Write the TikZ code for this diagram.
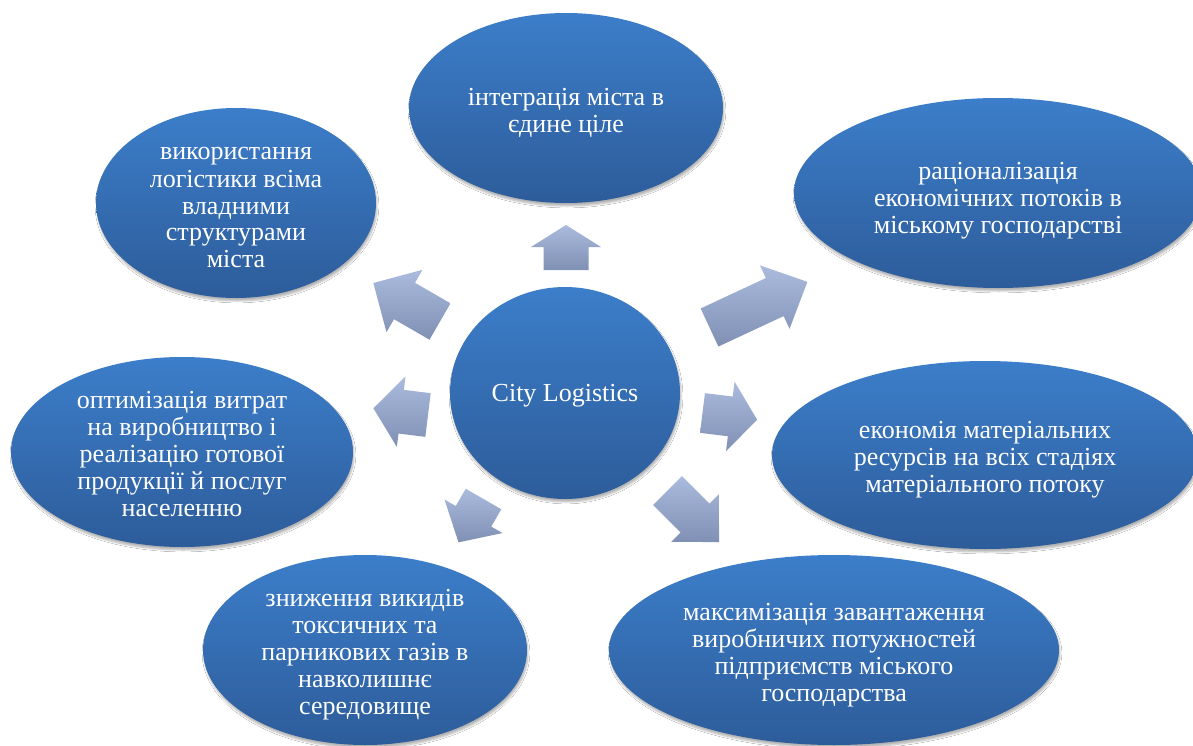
\documentclass[tikz,border=0pt]{standalone}
\usepackage{fontspec}
\setmainfont{Liberation Serif}
\usetikzlibrary{shapes.geometric,shadows.blur}

\definecolor{bubbletop}{RGB}{60,126,202}
\definecolor{bubblebot}{RGB}{45,92,154}
\definecolor{arrowtop}{RGB}{170,187,222}
\definecolor{arrowbot}{RGB}{128,144,180}

\tikzset{
    bubble/.style={ellipse, inner sep=0pt, top color=bubbletop, bottom color=bubblebot,
        blur shadow={shadow xshift=1pt, shadow yshift=-3pt, shadow opacity=30, shadow blur steps=6}},
    caption/.style={text=white, align=center, inner sep=0pt, font=\fontsize{26}{27}\selectfont},
    blockarrow/.style={top color=arrowtop, bottom color=arrowbot}
}

% block arrow: tail x, tail y, angle, length, shaft width, head width, head length
\newcommand{\flowarrow}[7]{
    \begin{scope}[shift={(#1,#2)}, rotate=#3]
        \shade[blockarrow] (0,-#5/2) -- (#4-#7,-#5/2) -- (#4-#7,-#6/2) -- (#4,0)
            -- (#4-#7,#6/2) -- (#4-#7,#5/2) -- (0,#5/2) -- cycle;
    \end{scope}
}

\begin{document}
\begin{tikzpicture}[x=1pt, y=-1pt]
    % page
    \fill[white] (0,0) rectangle (1193,746);
    \useasboundingbox (0,0) rectangle (1193,746);
    % centre
    \node[bubble, minimum width=230, minimum height=212] (city) at (565,393) {};
    \node[caption] (city-t) at ([yshift=-3pt]city.center) {City Logistics};
    % goals around the centre
    \node[bubble, minimum width=314, minimum height=190] (integr) at (566,108) {};
    \node[caption] (integr-t) at ([yshift=-5pt]integr.center)
        {інтеграція міста в\\ єдине ціле};
    \node[bubble, minimum width=280, minimum height=190] (power) at (236,203) {};
    \node[caption] (power-t) at ([yshift=-5pt]power.center)
        {використання\\ логістики всіма\\ владними\\ структурами\\ міста};
    \node[bubble, minimum width=408, minimum height=190] (ration) at (998,193) {};
    \node[caption] (ration-t) at ([yshift=-8pt]ration.center)
        {раціоналізація\\ економічних потоків в\\ міському господарстві};
    \node[bubble, minimum width=342, minimum height=190] (costs) at (182,452) {};
    \node[caption] (costs-t) at ([yshift=-2pt]costs.center)
        {оптимізація витрат\\ на виробництво і\\ реалізацію готової\\ продукції й послуг\\ населенню};
    \node[bubble, minimum width=426, minimum height=188] (saving) at (985,455) {};
    \node[caption] (saving-t) at ([yshift=-5pt]saving.center)
        {економія матеріальних\\ ресурсів на всіх стадіях\\ матеріального потоку};
    \node[bubble, minimum width=324, minimum height=190] (ecology) at (365,650) {};
    \node[caption] (ecology-t) at ([yshift=-5pt]ecology.center)
        {зниження викидів\\ токсичних та\\ парникових газів в\\ навколишнє\\ середовище};
    \node[bubble, minimum width=450, minimum height=190] (capacity) at (834,650) {};
    \node[caption] (capacity-t) at ([yshift=-5pt]capacity.center)
        {максимізація завантаження\\ виробничих потужностей\\ підприємств міського\\ господарства};
    % arrows out of the centre
    \flowarrow{566}{270}{90}{45}{45}{70}{22}
    \flowarrow{709.5}{327.5}{25}{108}{42}{70}{36}
    \flowarrow{440}{321.5}{150}{77}{42}{72}{36}
    \flowarrow{702.5}{413}{-7}{55}{40}{70}{27}
    \flowarrow{428}{415}{173}{55}{44}{71}{28}
    \flowarrow{667.5}{490.5}{-45}{73}{41}{67}{34}
    \flowarrow{483.5}{499}{-120}{50}{41}{67}{30}
\end{tikzpicture}
\end{document}
